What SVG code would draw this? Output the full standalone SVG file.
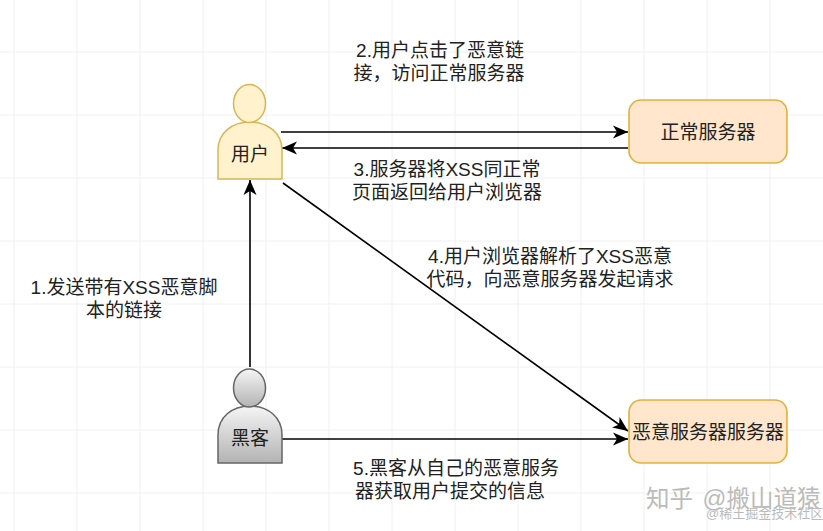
<svg xmlns="http://www.w3.org/2000/svg" width="823" height="531" viewBox="0 0 823 531">
<defs>
<marker id="arrow" markerUnits="userSpaceOnUse" markerWidth="16" markerHeight="16" refX="15" refY="8" orient="auto"><path d="M0,1.500 L15,8 L0,14.500 L4,8 Z" fill="#000"/></marker>
<linearGradient id="grey" x1="0" y1="0" x2="0" y2="1"><stop offset="0" stop-color="#f5f5f5"/><stop offset="1" stop-color="#b3b3b3"/></linearGradient>
</defs>
<style>
text{font-family:"Liberation Sans","Noto Sans CJK SC",sans-serif;font-size:19px;fill:#222;text-anchor:middle}
.grid line{stroke:#f0f0f0;stroke-width:1}
.conn{fill:none;stroke:#000;stroke-width:1.6;marker-end:url(#arrow)}
.user path,.user ellipse{fill:#fff2cc;stroke:#d6b656;stroke-width:1.5}
.hacker path,.hacker ellipse{fill:url(#grey);stroke:#666;stroke-width:1.5}
.server rect{fill:#ffe6cc;stroke:#d79b00;stroke-opacity:.75;stroke-width:1.6}
.wm{fill:#bbbbbb;text-anchor:start}
</style>
<rect width="823" height="531" fill="#fff"/>
<g class="grid">
<line x1="14" y1="0" x2="14" y2="531"/><line x1="77" y1="0" x2="77" y2="531"/><line x1="140" y1="0" x2="140" y2="531"/><line x1="203" y1="0" x2="203" y2="531"/><line x1="266" y1="0" x2="266" y2="531"/><line x1="329" y1="0" x2="329" y2="531"/><line x1="392" y1="0" x2="392" y2="531"/><line x1="455" y1="0" x2="455" y2="531"/><line x1="518" y1="0" x2="518" y2="531"/><line x1="581" y1="0" x2="581" y2="531"/><line x1="644" y1="0" x2="644" y2="531"/><line x1="707" y1="0" x2="707" y2="531"/><line x1="770" y1="0" x2="770" y2="531"/>
<line x1="0" y1="52" x2="823" y2="52"/><line x1="0" y1="115" x2="823" y2="115"/><line x1="0" y1="178" x2="823" y2="178"/><line x1="0" y1="241" x2="823" y2="241"/><line x1="0" y1="304" x2="823" y2="304"/><line x1="0" y1="367" x2="823" y2="367"/><line x1="0" y1="430" x2="823" y2="430"/><line x1="0" y1="493" x2="823" y2="493"/>
</g>
<g id="connectors">
<line class="conn" x1="281" y1="132" x2="628" y2="132"/>
<line class="conn" x1="628" y1="148" x2="282" y2="148"/>
<line class="conn" x1="250" y1="367" x2="250" y2="180"/>
<line class="conn" x1="283" y1="183" x2="628" y2="431"/>
<line class="conn" x1="282" y1="439" x2="628" y2="439"/>
</g>
<g id="user" class="user">
<path d="M218,179 L218,150 C218,133 232,122 250,122 C268,122 282,133 282,150 L282,179 Z"/>
<ellipse cx="249.500" cy="103.500" rx="16" ry="19"/>
<text x="250" y="161">用户</text>
</g>
<g id="hacker" class="hacker">
<path d="M218,463 L218,435 C218,417 232,406 250,406 C268,406 282,417 282,435 L282,463 Z"/>
<ellipse cx="249.500" cy="388" rx="16" ry="19"/>
<text x="250" y="445">黑客</text>
</g>
<g id="normal-server" class="server">
<rect x="629" y="100" width="158" height="63" rx="12"/>
<text x="708" y="139">正常服务器</text>
</g>
<g id="evil-server" class="server">
<rect x="629" y="400" width="158" height="63" rx="12"/>
<text x="708" y="439">恶意服务器服务器</text>
</g>
<g id="labels">
<text x="440" y="57">2.用户点击了恶意链</text>
<text x="439" y="80">接，访问正常服务器</text>
<text x="447" y="176">3.服务器将XSS同正常</text>
<text x="447" y="199">页面返回给用户浏览器</text>
<text x="550" y="263">4.用户浏览器解析了XSS恶意</text>
<text x="550" y="286">代码，向恶意服务器发起请求</text>
<text x="124" y="294">1.发送带有XSS恶意脚</text>
<text x="124" y="317">本的链接</text>
<text x="456" y="475">5.黑客从自己的恶意服务</text>
<text x="450" y="498">器获取用户提交的信息</text>
</g>
<g id="watermark">
<text class="wm" x="646" y="507" style="font-size:23.5px;word-spacing:3px">知乎 @搬山道猿</text>
<text class="wm" x="706" y="518" style="font-size:13px">@稀土掘金技术社区</text>
</g>
</svg>
